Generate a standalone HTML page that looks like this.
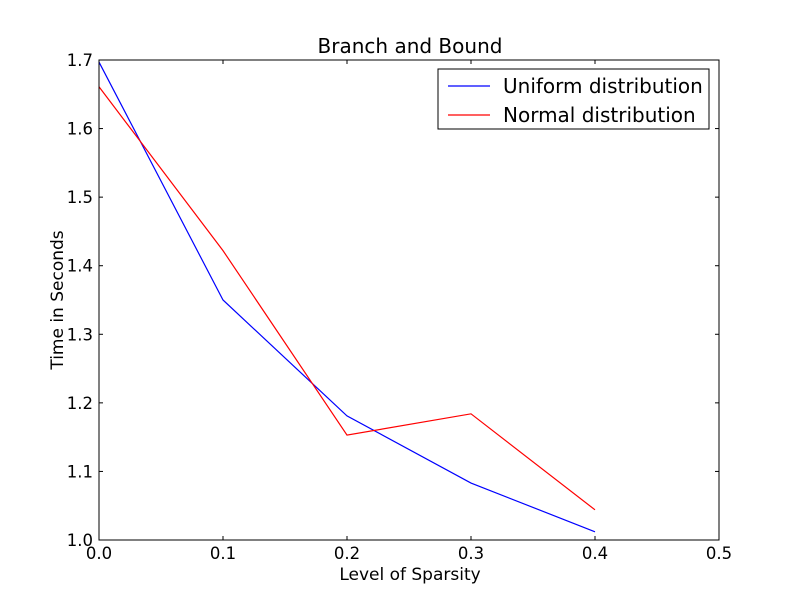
<!DOCTYPE html>
<html><head><meta charset="utf-8"><style>
body{margin:0;background:#fff}
svg{font-family:"DejaVu Sans","Liberation Sans",sans-serif}
</style></head><body>
<svg id="c" width="800" height="600">
<rect width="800" height="600" fill="#fff"/>
</svg>
<script>
const xTicks=[0.0,0.1,0.2,0.3,0.4,0.5];
const yTicks=[1.0,1.1,1.2,1.3,1.4,1.5,1.6,1.7];
const xVals=[0.0,0.1,0.2,0.3,0.4];
const uniformVals=[1.697,1.350,1.181,1.083,1.012];
const normalVals=[1.661,1.422,1.153,1.184,1.044];
const svg=document.getElementById('c');
const NS='http://www.w3.org/2000/svg';
const L=99,R=719,T=60,B=540;
const xs=v=>L+(v-0)/(0.5)*(R-L);
const ys=v=>B-(v-1.0)/(0.7)*(B-T);
function mk(tag,attrs,parent){const e=document.createElementNS(NS,tag);for(const k in attrs)e.setAttribute(k,attrs[k]);(parent||svg).appendChild(e);return e;}
function txt(s,attrs){const e=mk('text',attrs);e.textContent=s;return e;}
xTicks.forEach(v=>{
 const g=mk('g',{});
 
 
 mk('line',{x1:xs(v),x2:xs(v),y1:B,y2:B-4,stroke:'#000'},g);
 mk('line',{x1:xs(v),x2:xs(v),y1:T,y2:T+4,stroke:'#000'},g);
 const t=txt(v.toFixed(1),{x:xs(v),y:B+19,'text-anchor':'middle','font-size':'16.5'});
 
 
});
yTicks.forEach(v=>{
 const g=mk('g',{});
 
 
 mk('line',{x1:L,x2:L+4,y1:ys(v),y2:ys(v),stroke:'#000'},g);
 mk('line',{x1:R,x2:R-4,y1:ys(v),y2:ys(v),stroke:'#000'},g);
 const t=txt(v.toFixed(1),{x:L-6,y:ys(v)+6,'text-anchor':'end','font-size':'16.5'});
 
 
});
function series(vals,color,name){
 const p=mk('polyline',{points:xVals.map((x,i)=>xs(x)+','+ys(vals[i])).join(' '),fill:'none',stroke:color,'stroke-width':'1.2'});
 
 
}
series(uniformVals,'#0000ff','uniform-line');
series(normalVals,'#ff0000','normal-line');
const frame=mk('rect',{x:L,y:T,width:R-L,height:B-T,fill:'none',stroke:'#000'});


const title=txt('Branch and Bound',{x:(L+R)/2+1,y:53,'text-anchor':'middle','font-size':'20'});


const xl=txt('Level of Sparsity',{x:(L+R)/2+1,y:580,'text-anchor':'middle','font-size':'17'});


const yl=txt('Time in Seconds',{x:0,y:0,'text-anchor':'middle','font-size':'17',transform:'translate(63,300) rotate(-90)'});


const lg=mk('g',{});


mk('rect',{x:438,y:69,width:271,height:60,fill:'#fff',stroke:'#000'},lg);
[['Uniform distribution','#0000ff',86],['Normal distribution','#ff0000',115]].forEach(([s,c,y])=>{
 const g=mk('g',{},lg);
 
 
 mk('line',{x1:448,x2:490,y1:y,y2:y,stroke:c,'stroke-width':'1.2'},g);
 const t=mk('text',{x:503,y:y+7,'font-size':'20'},g);t.textContent=s;
});
</script>
</body></html>
